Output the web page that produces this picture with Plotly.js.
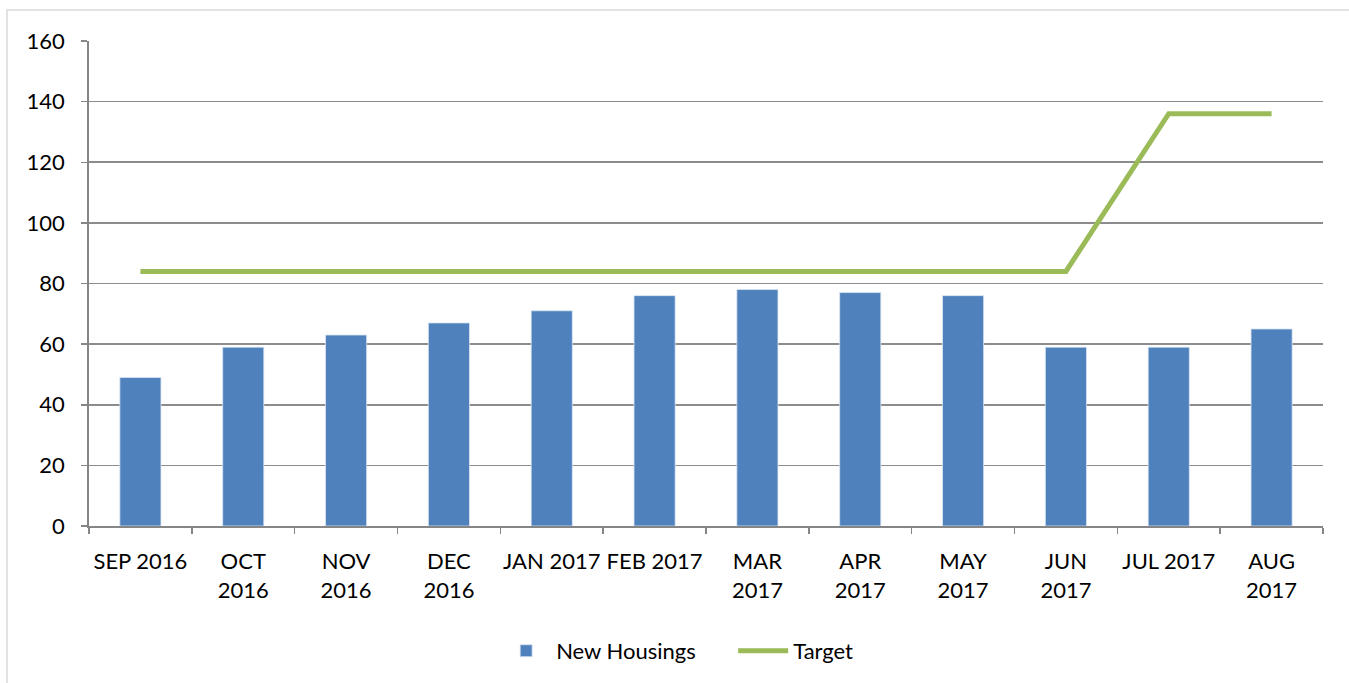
<!DOCTYPE html>
<html>
<head>
<meta charset="utf-8">
<script src="https://cdn.plot.ly/plotly-3.0.1.min.js"></script>
<style>
html,body{margin:0;padding:0;background:#fff;}
#chart{width:1349px;height:683px;}
</style>
</head>
<body>
<div id="chart"></div>
<script>
const categories = ["SEP 2016","OCT<br>2016","NOV<br>2016","DEC<br>2016","JAN 2017","FEB 2017","MAR<br>2017","APR<br>2017","MAY<br>2017","JUN<br>2017","JUL 2017","AUG<br>2017"];
const newHousings = [49, 59, 63, 67, 71, 76, 78, 77, 76, 59, 59, 65];
const target = [84, 84, 84, 84, 84, 84, 84, 84, 84, 84, 136, 136];
const yTicks = [0, 20, 40, 60, 80, 100, 120, 140, 160];

const font = "Lato, 'Open Sans', sans-serif";

const traces = [
  {
    type: "bar",
    name: "New Housings",
    x: categories,
    y: newHousings,
    marker: {color: "#4F81BD", line: {color: "#DCE6F2", width: 0.8}},
    hoverinfo: "x+y"
  },
  {
    type: "scatter",
    mode: "lines",
    name: "Target",
    x: categories,
    y: target,
    line: {color: "#9BBB59", width: 5}
  }
];

const layout = {
  width: 1349,
  height: 683,
  margin: {l: 89, r: 26, t: 41, b: 156},
  paper_bgcolor: "#fff",
  plot_bgcolor: "#fff",
  font: {family: font, size: 22, color: "#000"},
  bargap: 0.6,
  showlegend: true,
  legend: {
    orientation: "h",
    x: 0.522, xanchor: "center",
    y: -0.255, yanchor: "middle",
    font: {family: font, size: 22, color: "#000"},
    traceorder: "normal",
    itemwidth: 50,
    entrywidth: 172
  },
  xaxis: {
    type: "category",
    tickson: "boundaries",
    ticks: "outside",
    ticklen: 6,
    tickcolor: "#868686",
    tickwidth: 1.5,
    showline: true,
    linecolor: "#868686",
    linewidth: 1.8,
    showgrid: false,
    tickangle: 0,
    ticklabelstandoff: 15,
    tickfont: {family: font, size: 22, color: "#000"},
    fixedrange: true
  },
  yaxis: {
    range: [0, 160],
    tickvals: yTicks,
    ticktext: yTicks.map(String),
    ticks: "outside",
    ticklen: 6,
    tickcolor: "#868686",
    tickwidth: 1.5,
    showline: true,
    linecolor: "#868686",
    linewidth: 1.8,
    showgrid: true,
    gridcolor: "#8C8C8C",
    gridwidth: 1.6,
    zeroline: false,
    ticklabelstandoff: 12,
    tickfont: {family: font, size: 22, color: "#000"},
    fixedrange: true
  },
  shapes: [
    {
      type: "rect",
      xref: "paper", yref: "paper",
      x0: (7 - 89) / 1234, x1: (1360 - 89) / 1234,
      y0: (527 - 700) / 486, y1: (527 - 10) / 486,
      line: {color: "#D9D9D9", width: 1.5},
      fillcolor: "rgba(0,0,0,0)",
      layer: "below"
    }
  ]
};

Plotly.newPlot("chart", traces, layout, {displayModeBar: false, staticPlot: true});
</script>
</body>
</html>
